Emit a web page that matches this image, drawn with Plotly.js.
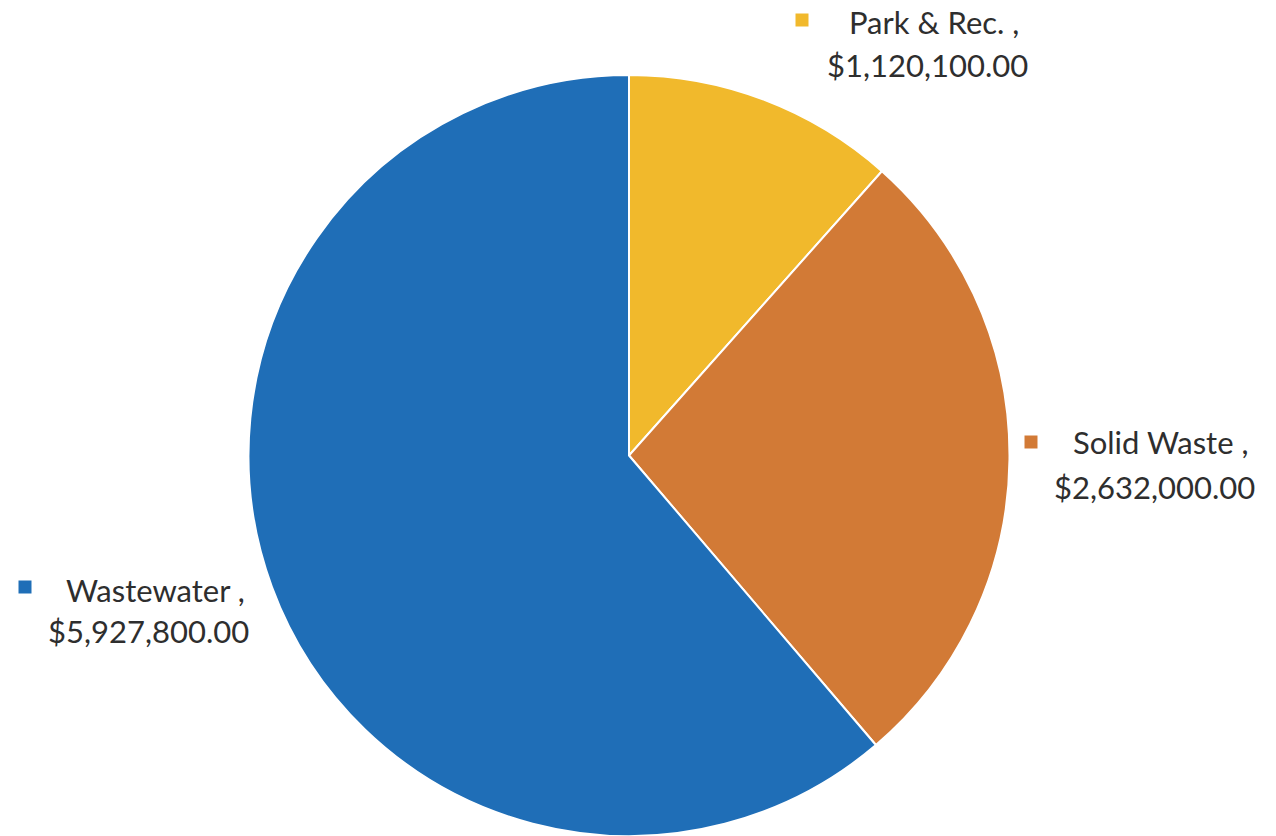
<!DOCTYPE html>
<html>
<head>
<meta charset="utf-8">
<script src="https://cdn.plot.ly/plotly-3.0.1.min.js"></script>
<style>html,body{margin:0;padding:0;background:#fff;}#chart{width:1276px;height:836px;}</style>
</head>
<body>
<div id="chart"></div>
<script>
const categories = ["Park & Rec.", "Solid Waste", "Wastewater"];
const amounts = [1120100, 2632000, 5927800];
const sliceColors = ["#F1B92C", "#D27A36", "#1F6EB7"];

const W = 1276, H = 836;
// label placement (pixels): [center x, line1 y, line2 y, square x, square y]
const labelPos = [
  [927, 22, 65, 802, 20],
  [1154, 442, 487, 1031, 442],
  [148, 590, 631, 25, 587]
];
function fmt(v) {
  return "$" + v.toLocaleString("en-US", {minimumFractionDigits: 2, maximumFractionDigits: 2});
}
const annotations = [];
const shapes = [];
const fontFam = "Lato, 'Open Sans', sans-serif";
categories.forEach((c, i) => {
  const p = labelPos[i];
  annotations.push({xref: "paper", yref: "paper", x: (p[0] + 7) / W, y: 1 - p[1] / H, xanchor: "center", yanchor: "middle",
    text: c + " ,", showarrow: false, font: {family: fontFam, size: 31, color: "#2e2e2e"}});
  annotations.push({xref: "paper", yref: "paper", x: p[0] / W, y: 1 - p[2] / H, xanchor: "center", yanchor: "middle",
    text: fmt(amounts[i]), showarrow: false, font: {family: fontFam, size: 31, color: "#2e2e2e"}});
  shapes.push({type: "rect", xref: "paper", yref: "paper", x0: (p[3] - 6.5) / W, x1: (p[3] + 6.5) / W,
    y0: 1 - (p[4] + 6.5) / H, y1: 1 - (p[4] - 6.5) / H, fillcolor: sliceColors[i], line: {width: 0}});
});

const trace = {
  type: "pie",
  labels: categories,
  values: amounts,
  sort: false,
  direction: "clockwise",
  rotation: 0,
  textinfo: "none",
  hoverinfo: "label+value",
  marker: {colors: sliceColors, line: {color: "#ffffff", width: 2}},
  domain: {x: [248 / W, 1010 / W], y: [0, 1 - 75 / H]}
};

const layout = {
  width: W, height: H,
  margin: {l: 0, r: 0, t: 0, b: 0},
  paper_bgcolor: "#ffffff",
  showlegend: false,
  annotations: annotations,
  shapes: shapes
};
Plotly.newPlot("chart", [trace], layout, {displayModeBar: false, staticPlot: true});
</script>
</body>
</html>
